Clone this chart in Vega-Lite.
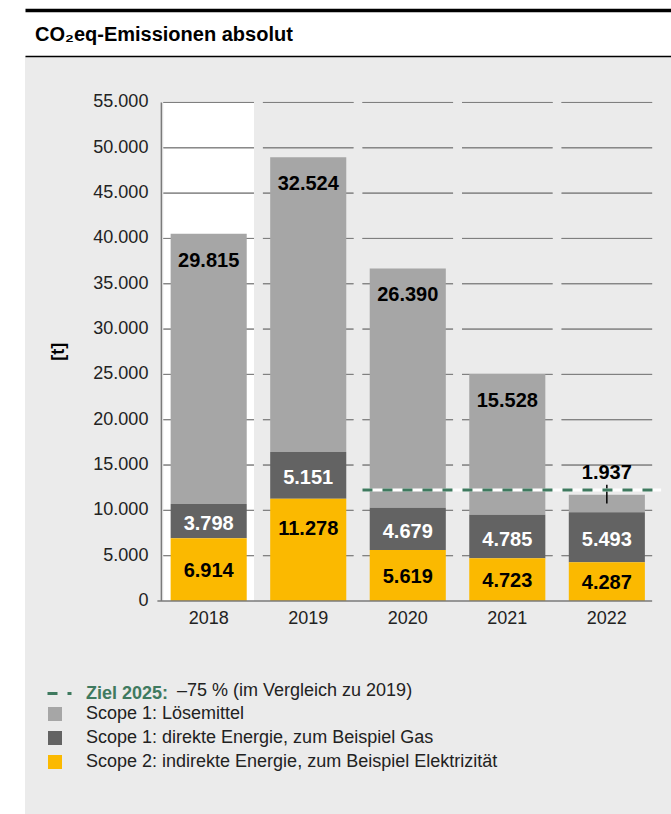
{
  "$schema": "https://vega.github.io/schema/vega-lite/v6.json",
  "width": 646,
  "height": 758,
  "autosize": "none",
  "padding": {"left": 25, "top": 56, "right": 0, "bottom": 0},
  "background": "white",
  "config": {
    "font": "Liberation Sans",
    "view": {"fill": "#ebebeb", "stroke": null},
    "locale": {"number": {"decimal": ",", "thousands": ".", "grouping": [3], "currency": ["", " €"]}}
  },
  "title": {
    "text": "CO₂eq-Emissionen absolut",
    "anchor": "start",
    "frame": "group",
    "dx": 10,
    "offset": -51,
    "baseline": "alphabetic",
    "fontSize": 20,
    "fontWeight": "bold",
    "color": "#000000"
  },
  "datasets": {
    "emissions": [
      {"year": "2018", "cat": "Scope 1: Lösemittel", "value": 29815},
      {"year": "2018", "cat": "Scope 1: direkte Energie, zum Beispiel Gas", "value": 3798},
      {"year": "2018", "cat": "Scope 2: indirekte Energie, zum Beispiel Elektrizität", "value": 6914},
      {"year": "2019", "cat": "Scope 1: Lösemittel", "value": 32524},
      {"year": "2019", "cat": "Scope 1: direkte Energie, zum Beispiel Gas", "value": 5151},
      {"year": "2019", "cat": "Scope 2: indirekte Energie, zum Beispiel Elektrizität", "value": 11278},
      {"year": "2020", "cat": "Scope 1: Lösemittel", "value": 26390},
      {"year": "2020", "cat": "Scope 1: direkte Energie, zum Beispiel Gas", "value": 4679},
      {"year": "2020", "cat": "Scope 2: indirekte Energie, zum Beispiel Elektrizität", "value": 5619},
      {"year": "2021", "cat": "Scope 1: Lösemittel", "value": 15528},
      {"year": "2021", "cat": "Scope 1: direkte Energie, zum Beispiel Gas", "value": 4785},
      {"year": "2021", "cat": "Scope 2: indirekte Energie, zum Beispiel Elektrizität", "value": 4723},
      {"year": "2022", "cat": "Scope 1: Lösemittel", "value": 1937},
      {"year": "2022", "cat": "Scope 1: direkte Energie, zum Beispiel Gas", "value": 5493},
      {"year": "2022", "cat": "Scope 2: indirekte Energie, zum Beispiel Elektrizität", "value": 4287}
    ],
    "grid": [
      {"year": "2018", "g": [5000, 10000, 15000, 20000, 25000, 30000, 35000, 40000, 45000, 50000, 55000]},
      {"year": "2019", "g": [5000, 10000, 15000, 20000, 25000, 30000, 35000, 40000, 45000, 50000, 55000]},
      {"year": "2020", "g": [5000, 10000, 15000, 20000, 25000, 30000, 35000, 40000, 45000, 50000, 55000]},
      {"year": "2021", "g": [5000, 10000, 15000, 20000, 25000, 30000, 35000, 40000, 45000, 50000, 55000]},
      {"year": "2022", "g": [5000, 10000, 15000, 20000, 25000, 30000, 35000, 40000, 45000, 50000, 55000]}
    ],
    "yticks": [
      {"year": "2018", "t": 0}, {"year": "2018", "t": 5000}, {"year": "2018", "t": 10000},
      {"year": "2018", "t": 15000}, {"year": "2018", "t": 20000}, {"year": "2018", "t": 25000},
      {"year": "2018", "t": 30000}, {"year": "2018", "t": 35000}, {"year": "2018", "t": 40000},
      {"year": "2018", "t": 45000}, {"year": "2018", "t": 50000}, {"year": "2018", "t": 55000}
    ],
    "ytitle": [{"year": "2018", "t": 27500, "label": "[t]"}],
    "frame": [{"year": "2018", "last": "2022", "lo": 0, "hi": 55000}],
    "target": [{"label": "Ziel 2025:", "value": 12238, "from": "2020", "to": "2022"}]
  },
  "layer": [
    {
      "data": {"name": "frame"},
      "mark": {"type": "rect", "fill": "white"},
      "encoding": {
        "x": {
          "field": "year", "type": "nominal",
          "scale": {"domain": ["2018", "2019", "2020", "2021", "2022"], "paddingInner": 0.09, "paddingOuter": 0.79, "align": 0.88},
          "axis": {"orient": "bottom", "offset": -213, "domain": false, "ticks": false, "tickSize": 0, "grid": false, "labelPadding": 8, "labelFontSize": 18, "labelColor": "#222222", "labelAngle": 0, "title": null}
        },
        "y": {
          "field": "lo", "type": "quantitative",
          "scale": {"domain": [-23500, 60128], "nice": false, "zero": false},
          "axis": null
        },
        "y2": {"field": "hi"}
      }
    },
    {
      "data": {"name": "grid"},
      "transform": [{"flatten": ["g"]}],
      "mark": {"type": "rect", "fill": null, "stroke": "#7f7f7f", "strokeWidth": 1},
      "encoding": {
        "x": {"field": "year", "type": "nominal", "axis": null},
        "y": {"field": "g", "type": "quantitative", "axis": null},
        "y2": {"field": "g"}
      }
    },
    {
      "data": {"name": "yticks"},
      "mark": {"type": "text", "align": "right", "baseline": "middle", "fontSize": 18, "color": "#222222", "xOffset": -15},
      "encoding": {
        "x": {"field": "year", "type": "nominal", "bandPosition": 0, "axis": null},
        "y": {"field": "t", "type": "quantitative", "axis": null},
        "text": {"field": "t", "type": "quantitative", "format": ",d"}
      }
    },
    {
      "data": {"name": "ytitle"},
      "mark": {"type": "text", "align": "center", "baseline": "middle", "angle": 270, "fontSize": 18, "fontWeight": "bold", "color": "#000000", "xOffset": -104},
      "encoding": {
        "x": {"field": "year", "type": "nominal", "bandPosition": 0, "axis": null},
        "y": {"field": "t", "type": "quantitative", "axis": null},
        "text": {"field": "label", "type": "nominal"}
      }
    },
    {
      "data": {"name": "frame"},
      "mark": {"type": "rule", "color": "#7a7a7a", "strokeWidth": 1.5, "xOffset": -2},
      "encoding": {
        "x": {
          "field": "year", "type": "nominal", "bandPosition": 0,
          "axis": {"orient": "top", "offset": 0, "domain": true, "domainColor": "#000000", "domainWidth": 1.5, "ticks": false, "labels": false, "grid": false, "title": null}
        },
        "y": {"field": "lo", "type": "quantitative", "axis": null},
        "y2": {"field": "hi"}
      }
    },
    {
      "data": {"name": "emissions"},
      "transform": [
        {"stack": "value", "groupby": ["year"], "sort": [{"field": "cat", "order": "descending"}], "as": ["v0", "v1"]},
        {"fold": ["v0", "v1"], "as": ["k", "kv"]},
        {"joinaggregate": [{"op": "mean", "field": "kv", "as": "mid"}], "groupby": ["year", "cat"]},
        {"filter": "datum.k == 'v1'"}
      ],
      "layer": [
        {
          "mark": {"type": "bar", "width": {"band": 0.84}},
          "encoding": {
            "x": {"field": "year", "type": "nominal", "axis": null},
            "y": {"field": "v1", "type": "quantitative", "axis": null},
            "y2": {"field": "v0"},
            "color": {
              "field": "cat", "type": "nominal",
              "scale": {
                "domain": ["Scope 1: Lösemittel", "Scope 1: direkte Energie, zum Beispiel Gas", "Scope 2: indirekte Energie, zum Beispiel Elektrizität"],
                "range": ["#a6a6a6", "#636363", "#fbb900"]
              },
              "legend": {
                "orient": "none", "legendX": 21, "legendY": 649, "direction": "vertical", "title": null,
                "symbolType": "square", "symbolSize": 196, "symbolStrokeWidth": 0,
                "labelFontSize": 18, "labelColor": "#222222", "labelOffset": 22, "rowPadding": 6, "labelLimit": 600
              }
            }
          }
        },
        {
          "transform": [{"filter": "datum.cat == 'Scope 1: Lösemittel' && datum.year != '2022'"}],
          "mark": {"type": "text", "fontSize": 20, "fontWeight": "bold", "color": "#000000", "baseline": "middle", "dy": 27},
          "encoding": {
            "x": {"field": "year", "type": "nominal", "axis": null},
            "y": {"field": "v1", "type": "quantitative", "axis": null},
            "text": {"field": "value", "type": "quantitative", "format": ",d"}
          }
        },
        {
          "transform": [{"filter": "datum.cat == 'Scope 1: Lösemittel' && datum.year == '2022'"}],
          "mark": {"type": "text", "fontSize": 20, "fontWeight": "bold", "color": "#000000", "baseline": "middle", "dy": -22},
          "encoding": {
            "x": {"field": "year", "type": "nominal", "axis": null},
            "y": {"field": "v1", "type": "quantitative", "axis": null},
            "text": {"field": "value", "type": "quantitative", "format": ",d"}
          }
        },
        {
          "transform": [{"filter": "datum.cat == 'Scope 1: Lösemittel' && datum.year == '2022'"}],
          "mark": {"type": "rule", "color": "#000000", "strokeWidth": 1.5, "yOffset": -10},
          "encoding": {
            "x": {"field": "year", "type": "nominal", "axis": null},
            "y": {"field": "v1", "type": "quantitative", "axis": null},
            "y2": {"field": "mid"}
          }
        },
        {
          "transform": [{"filter": "datum.cat == 'Scope 1: direkte Energie, zum Beispiel Gas'"}],
          "mark": {"type": "text", "fontSize": 20, "fontWeight": "bold", "color": "#ffffff", "baseline": "middle", "dy": 3},
          "encoding": {
            "x": {"field": "year", "type": "nominal", "axis": null},
            "y": {"field": "mid", "type": "quantitative", "axis": null},
            "text": {"field": "value", "type": "quantitative", "format": ",d"}
          }
        },
        {
          "transform": [{"filter": "datum.cat == 'Scope 2: indirekte Energie, zum Beispiel Elektrizität' && datum.year != '2019'"}],
          "mark": {"type": "text", "fontSize": 20, "fontWeight": "bold", "color": "#000000", "baseline": "middle", "dy": 1},
          "encoding": {
            "x": {"field": "year", "type": "nominal", "axis": null},
            "y": {"field": "mid", "type": "quantitative", "axis": null},
            "text": {"field": "value", "type": "quantitative", "format": ",d"}
          }
        },
        {
          "transform": [{"filter": "datum.cat == 'Scope 2: indirekte Energie, zum Beispiel Elektrizität' && datum.year == '2019'"}],
          "mark": {"type": "text", "fontSize": 20, "fontWeight": "bold", "color": "#000000", "baseline": "middle", "dy": 30},
          "encoding": {
            "x": {"field": "year", "type": "nominal", "axis": null},
            "y": {"field": "v1", "type": "quantitative", "axis": null},
            "text": {"field": "value", "type": "quantitative", "format": ",d"}
          }
        }
      ]
    },
    {
      "data": {"name": "frame"},
      "mark": {"type": "rule", "color": "#7a7a7a", "strokeWidth": 1.5, "xOffset": -6},
      "encoding": {
        "x": {
          "field": "year", "type": "nominal", "bandPosition": 0,
          "axis": {"orient": "top", "offset": 46, "domain": true, "domainColor": "#000000", "domainWidth": 3.5, "ticks": false, "labels": false, "grid": false, "title": null}
        },
        "x2": {"field": "last", "bandPosition": 1},
        "y": {"field": "lo", "type": "quantitative", "axis": null}
      }
    },
    {
      "data": {"name": "target"},
      "mark": {"type": "rule", "color": "#ffffff", "strokeWidth": 3, "xOffset": 0, "x2Offset": 9},
      "encoding": {
        "x": {"field": "from", "type": "nominal", "bandPosition": 0, "axis": null},
        "x2": {"field": "to", "bandPosition": 1},
        "y": {"field": "value", "type": "quantitative", "axis": null}
      }
    },
    {
      "data": {"name": "target"},
      "mark": {"type": "rule", "color": "#3f7a5f", "strokeWidth": 3, "xOffset": 0, "x2Offset": 9},
      "encoding": {
        "x": {"field": "from", "type": "nominal", "bandPosition": 0, "axis": null},
        "x2": {"field": "to", "bandPosition": 1},
        "y": {"field": "value", "type": "quantitative", "axis": null},
        "strokeDash": {
          "field": "label", "type": "nominal",
          "scale": {"range": [[10, 10]]},
          "legend": {
            "orient": "none", "legendX": 21, "legendY": 624, "direction": "vertical",
            "title": "–75 % (im Vergleich zu 2019)", "titleOrient": "right", "titleLimit": 500,
            "titleFontSize": 18, "titleFontWeight": "normal", "titleColor": "#222222", "titlePadding": 9,
            "symbolType": "stroke", "symbolSize": 576, "symbolStrokeWidth": 3,
            "labelFontSize": 18, "labelFontWeight": "bold", "labelColor": "#3f7a5f", "labelOffset": 13, "labelLimit": 300,
            "encode": {"symbols": {"update": {"strokeDash": {"value": [8, 8]}}}}
          }
        }
      }
    }
  ]
}
